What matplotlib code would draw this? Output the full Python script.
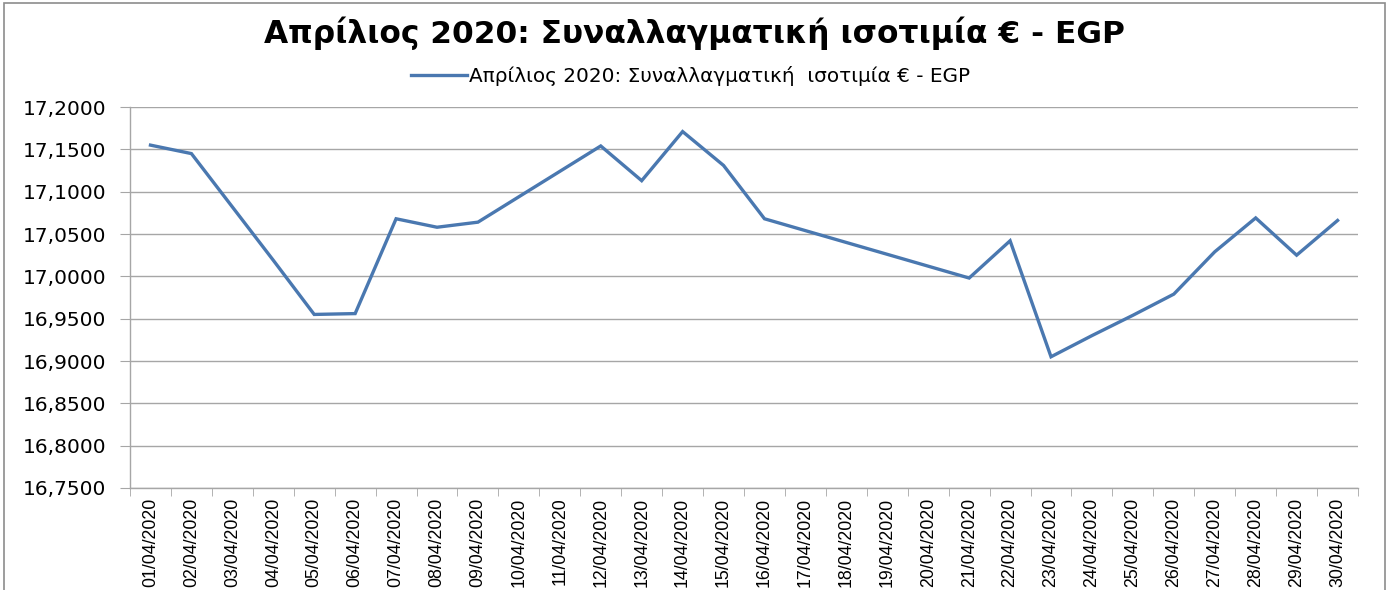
import matplotlib
matplotlib.use('Agg')
import matplotlib.pyplot as plt
from matplotlib.patches import Rectangle
from matplotlib.ticker import FuncFormatter, FixedLocator

dates = ['%02d/04/2020' % d for d in range(1, 31)]
rates = [17.155, 17.145, 17.082, 17.019, 16.955, 16.956, 17.068, 17.058, 17.064, 17.094,
         17.124, 17.154, 17.113, 17.171, 17.131, 17.068, 17.054, 17.040, 17.026, 17.012,
         16.998, 17.042, 16.905, 16.930, 16.954, 16.979, 17.029, 17.069, 17.025, 17.066]
yticks = [16.75, 16.80, 16.85, 16.90, 16.95, 17.00, 17.05, 17.10, 17.15, 17.20]

title = 'Απρίλιος 2020: Συναλλαγματική ισοτιμία € - EGP'
series_name = 'Απρίλιος 2020: Συναλλαγματική  ισοτιμία € - EGP'

fig = plt.figure(figsize=(13.89, 5.90), dpi=100)
ax = fig.add_axes([0.0936, 0.1729, 0.8841, 0.6457])

# outer chart frame
fig.patches.append(Rectangle((0.003, -0.05), 0.994, 1.045, transform=fig.transFigure,
                             fill=False, edgecolor='#8c8c8c', linewidth=1.2))

x = list(range(len(dates)))
line, = ax.plot(x, rates, color='#4a78b0', linewidth=2.4, solid_joinstyle='miter')

ax.set_xlim(-0.5, len(dates) - 0.5)
ax.set_ylim(16.75, 17.20)
ax.set_yticks(yticks)
ax.yaxis.set_major_formatter(FuncFormatter(lambda v, p: ('%.4f' % v).replace('.', ',')))
ax.yaxis.grid(True, color='#a6a6a6', linewidth=1.0)
ax.set_axisbelow(True)

ax.set_xticks(x)
ax.set_xticklabels(dates, rotation=90, family='Liberation Sans', fontsize=12.8)
ax.xaxis.set_minor_locator(FixedLocator([i - 0.5 for i in range(len(dates) + 1)]))
ax.tick_params(axis='x', which='major', length=0, pad=7)
ax.tick_params(axis='x', which='minor', length=6, color='#a6a6a6', direction='out')
ax.tick_params(axis='y', length=7, color='#a6a6a6', labelsize=14.5, pad=10)

for s in ['top', 'right']:
    ax.spines[s].set_visible(False)
for s in ['left', 'bottom']:
    ax.spines[s].set_color('#a6a6a6')
    ax.spines[s].set_linewidth(1.0)

fig.text(0.5, 0.943, title, ha='center', va='center', fontsize=22.5, fontweight='bold')
fig.legend([line], [series_name], loc='center', bbox_to_anchor=(0.497, 0.872),
           frameon=False, fontsize=14.4, handlelength=2.8, handletextpad=0.1)

fig.savefig('out.png', dpi=100, facecolor='white')
